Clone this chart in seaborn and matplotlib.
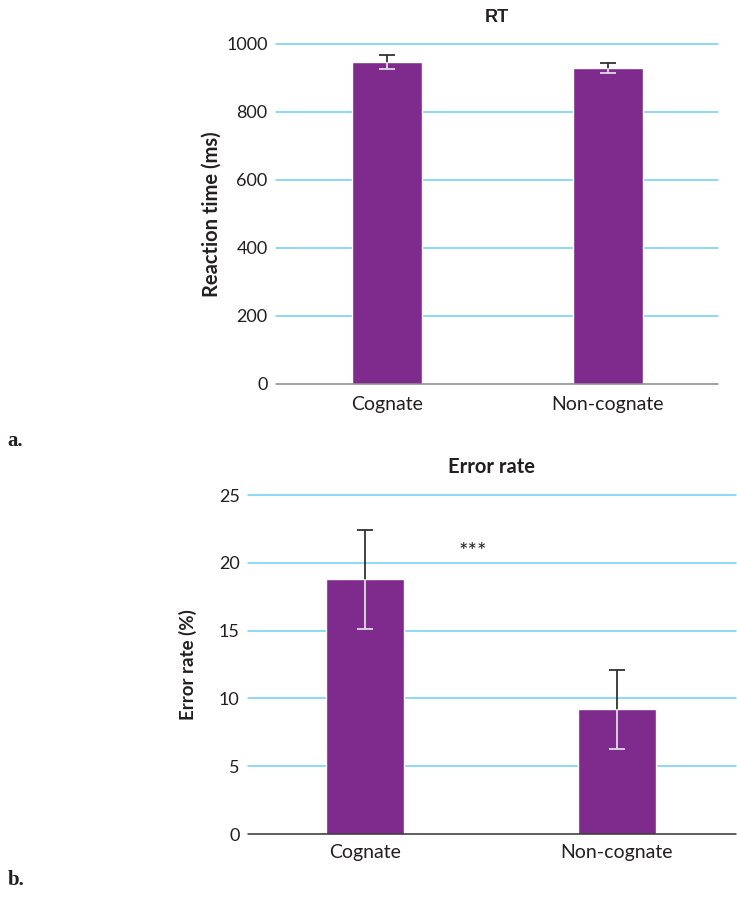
import matplotlib
matplotlib.use("Agg")
import matplotlib.pyplot as plt
import seaborn as sns
import pandas as pd
import numpy as np

categories = ["Cognate", "Non-cognate"]
rt_values = [947, 929]
rt_errors = [21, 14]
rt_ticks = [0, 200, 400, 600, 800, 1000]
err_values = [18.8, 9.2]
err_errors = [3.65, 2.9]
err_ticks = [0, 5, 10, 15, 20, 25]
sig_label = "***"
sig_y = 20.8

sns.set_theme(style="white")
plt.rcParams['font.family'] = ['Lato', 'DejaVu Sans']

PURPLE = "#7F2A8D"
GRID = "#6DCFF6"
TXT = "#231F20"

fig = plt.figure(figsize=(7.37, 8.97), dpi=100)
ax1 = fig.add_axes([0.3745, 0.572, 0.5995, 0.379])
ax2 = fig.add_axes([0.3365, 0.0702, 0.662, 0.3778])


def panel(ax, values, errors, ticks, xlim, width, base_color):
    df = pd.DataFrame({"cat": categories, "val": values})
    sns.barplot(data=df, x="cat", y="val", color=PURPLE, saturation=1,
                width=width, errorbar=None, ax=ax, zorder=3)
    x = np.arange(len(categories))
    ax.errorbar(x, values, yerr=errors, fmt="none",
                ecolor="#333333", elinewidth=1.3, capsize=6, capthick=1.3, zorder=4)
    # white portion inside each bar
    for i, patch in enumerate(ax.patches[:len(categories)]):
        eb = ax.errorbar([x[i]], [values[i]], yerr=[errors[i]], fmt="none",
                         ecolor="#E6DAEE", elinewidth=1.3, capsize=6, capthick=1.3, zorder=5)
        for art in eb.lines[1] + eb.lines[2]:
            art.set_clip_path(patch)
    ax.set_xlim(*xlim)
    ax.set_ylim(ticks[0], ticks[-1])
    ax.set_yticks(ticks)
    for t in ticks[1:]:
        ax.axhline(t, color=GRID, lw=1.1, zorder=1, clip_on=False)
    ax.axhline(0, color=base_color, lw=1.1, zorder=6, clip_on=False)
    for s in ax.spines.values():
        s.set_visible(False)
    ax.tick_params(axis="both", length=0, colors=TXT)
    ax.tick_params(axis="y", pad=6, labelsize=13)
    ax.tick_params(axis="x", labelsize=14)
    ax.set_xlabel("")


panel(ax1, rt_values, rt_errors, rt_ticks, (-0.502, 1.498), 0.317, "#888888")
ax1.tick_params(axis="x", pad=9)
ax1.set_ylabel("Reaction time (ms)", fontsize=14.5, fontweight="bold", color=TXT, labelpad=3)
ax1.set_title("RT", fontsize=13, fontweight="bold", color=TXT, pad=16,
              family=["Liberation Sans", "DejaVu Sans"])

panel(ax2, err_values, err_errors, err_ticks, (-0.464, 1.472), 0.312, "#333333")
ax2.tick_params(axis="x", pad=7)
ax2.set_ylabel("Error rate (%)", fontsize=13.5, fontweight="bold", color=TXT, labelpad=16)
ax2.set_title("Error rate", fontsize=14.5, fontweight="bold", color=TXT, pad=16)
ax2.text(0.43, sig_y, sig_label, ha="center", va="center", fontsize=16, color=TXT)

fig.text(0.010, 0.503, "a.", fontsize=15, fontweight="bold",
         family=["Liberation Serif", "DejaVu Serif"], color=TXT)
fig.text(0.010, 0.013, "b.", fontsize=15, fontweight="bold",
         family=["Liberation Serif", "DejaVu Serif"], color=TXT)

fig.savefig("out.png", dpi=100)
